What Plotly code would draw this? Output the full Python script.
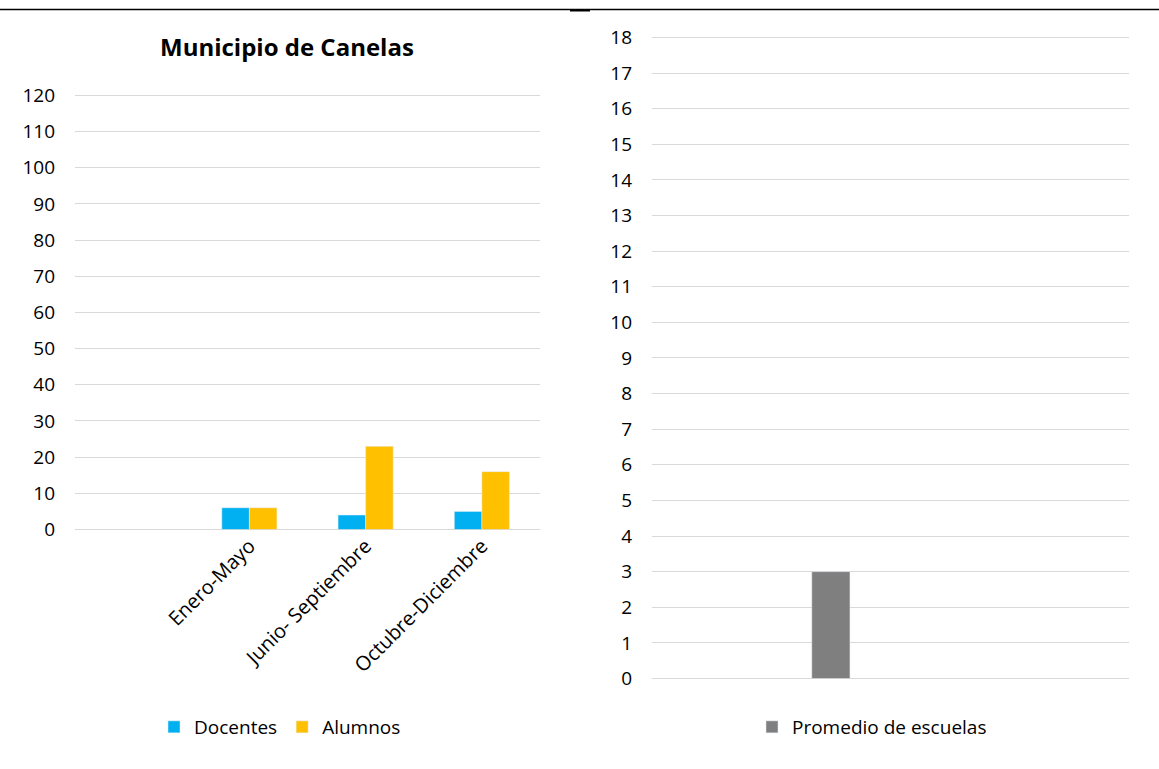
import plotly.graph_objects as go

# ---- data ----
periodos = [" ", "Enero-Mayo", "Junio- Septiembre", "Octubre-Diciembre"]
docentes = [None, 6, 4, 5]
alumnos = [None, 6, 23, 16]

promedio_cats = [" ", "  ", "   ", "    "]
promedio_escuelas = [None, 3, None, None]

W, H = 1159, 769
FONT = "Open Sans, Noto Sans, DejaVu Sans, sans-serif"

def px_x(p):
    return p / W

def px_y(p):
    return 1 - p / H

fig = go.Figure()

fig.add_trace(go.Bar(x=periodos, y=docentes, name="Docentes", marker_color="#00b0f0",
                     xaxis="x", yaxis="y", legend="legend"))
fig.add_trace(go.Bar(x=periodos, y=alumnos, name="Alumnos", marker_color="#ffc000",
                     xaxis="x", yaxis="y", legend="legend"))
fig.add_trace(go.Bar(x=promedio_cats, y=promedio_escuelas, name="Promedio de escuelas",
                     marker_color="#7f7f7f", xaxis="x2", yaxis="y2", legend="legend2",
                     width=0.32))

grid = "#d9d9d9"
tickfont = dict(family=FONT, size=19, color="#000000")
xtickfont = dict(family=FONT, size=20, color="#000000")

# left axis: 0 at y=529.5px, 10 units = 36.17px; extend range a little so top grid shows
l_unit = (529.5 - 95.5) / 120
r_unit = (678.5 - 37.5) / 18

fig.update_layout(
    width=W, height=H,
    margin=dict(l=0, r=0, t=0, b=0, pad=0, autoexpand=False),
    paper_bgcolor="white", plot_bgcolor="white",
    barmode="group", bargap=0.526, bargroupgap=0,
    font=dict(family=FONT, color="#000000"),
    xaxis=dict(domain=[px_x(75), px_x(540)], anchor="y", type="category",
               categoryorder="array", categoryarray=periodos, automargin=False,
               range=[-0.5, 3.5], tickangle=-45, tickfont=xtickfont,
               showgrid=False, showline=False, zeroline=False, ticks=""),
    yaxis=dict(domain=[px_y(529.5), px_y(95.5 - 2 * l_unit)], anchor="x", range=[0, 122], dtick=10,
               showgrid=True, gridcolor=grid, gridwidth=1, zeroline=True, automargin=False,
               zerolinecolor=grid, zerolinewidth=1, showline=False, ticks="",
               tickfont=tickfont, ticklabelstandoff=19),
    xaxis2=dict(domain=[px_x(652), px_x(1129)], anchor="y2", type="category",
                categoryorder="array", categoryarray=promedio_cats, automargin=False,
                range=[-0.5, 3.5], showticklabels=False,
                showgrid=False, showline=False, zeroline=False, ticks=""),
    yaxis2=dict(domain=[px_y(678.5), px_y(37.5 - 0.2 * r_unit)], anchor="x2", range=[0, 18.2], dtick=1,
                showgrid=True, gridcolor=grid, gridwidth=1, zeroline=True, automargin=False,
                zerolinecolor=grid, zerolinewidth=1, showline=False, ticks="",
                tickfont=tickfont, ticklabelstandoff=19),
    legend=dict(orientation="h", x=px_x(280), xanchor="center", y=px_y(727),
                yanchor="middle", font=dict(family=FONT, size=19, color="#000000"),
                bgcolor="rgba(0,0,0,0)"),
    legend2=dict(orientation="h", x=px_x(872), xanchor="center", y=px_y(727),
                 yanchor="middle", font=dict(family=FONT, size=19, color="#000000"),
                 bgcolor="rgba(0,0,0,0)"),
    showlegend=True,
)

fig.add_annotation(text="<b>Municipio de Canelas</b>", xref="paper", yref="paper",
                   x=px_x(287), y=px_y(47), xanchor="center", yanchor="middle",
                   showarrow=False, font=dict(family=FONT, size=24, color="#000000"))

# top border line
fig.add_shape(type="line", xref="paper", yref="paper", x0=0, x1=1,
              y0=px_y(9.5), y1=px_y(9.5), line=dict(color="#000000", width=1.3))
fig.add_shape(type="rect", xref="paper", yref="paper", x0=px_x(570), x1=px_x(590),
              y0=px_y(11.5), y1=px_y(9), line=dict(width=0), fillcolor="#000000")

fig.write_html(
    "out.html",
    config={"displayModeBar": False},
    post_script=(
        "document.documentElement.style.margin='0';"
        "document.documentElement.style.overflow='hidden';"
        "document.body.style.margin='0';document.body.style.overflow='hidden';"
        "var gd=document.getElementById('{plot_id}');"
        "gd.style.position='fixed';gd.style.top='0px';gd.style.left='0px';"
    ),
)
